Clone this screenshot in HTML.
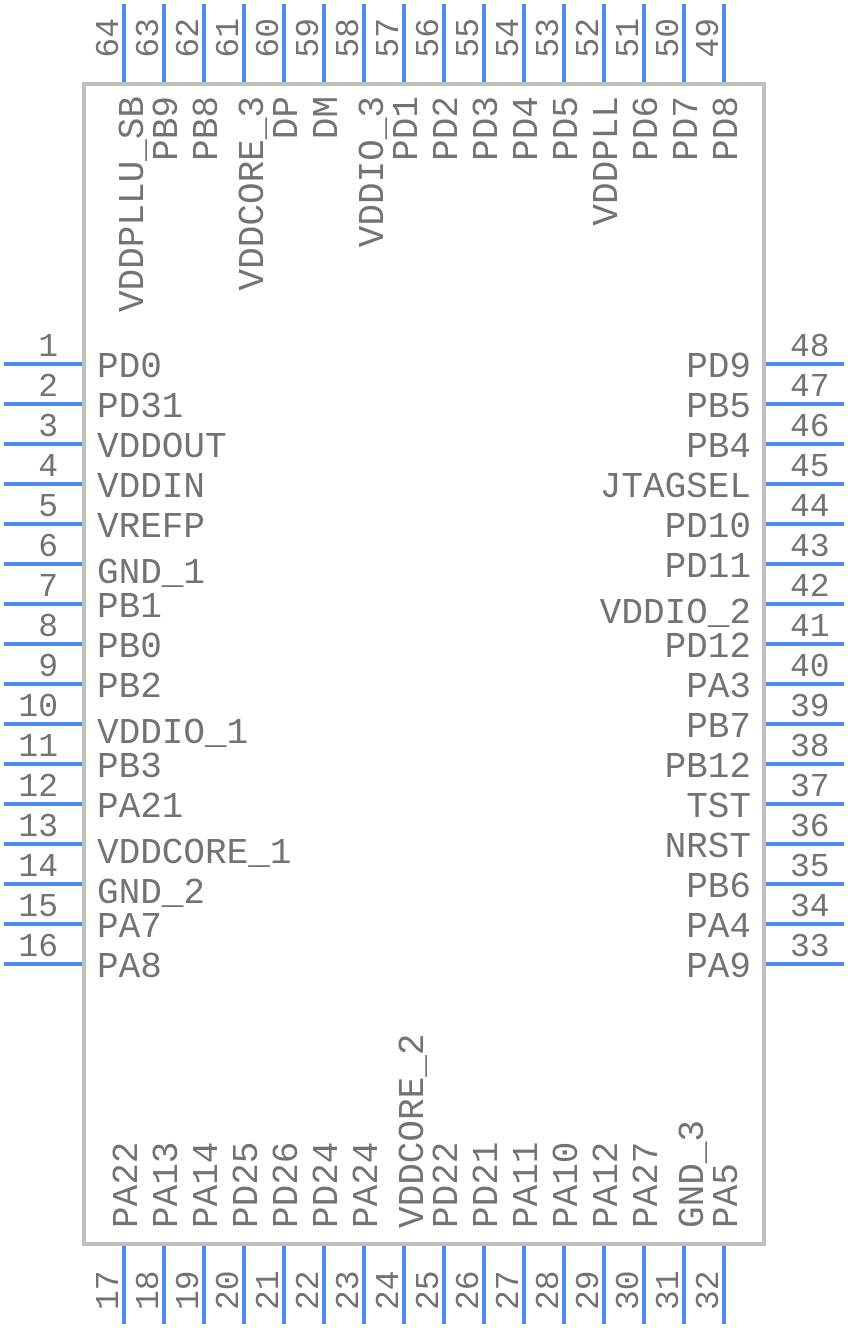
<!DOCTYPE html>
<html><head><meta charset="utf-8"><style>
html,body{margin:0;padding:0;background:#fff;}
svg{display:block;}
text{font-family:"Liberation Mono","DejaVu Sans Mono",monospace;font-size:33px;fill:#737373;}
text.lb{font-size:36px;}
</style></head><body>
<svg width="848" height="1328" viewBox="0 0 848 1328" xmlns="http://www.w3.org/2000/svg">
<g stroke="#4a8cf0" stroke-width="4" id="pins"></g>
<rect x="84" y="84" width="680" height="1160" fill="none" stroke="#c0c0c0" stroke-width="4"/>
<g id="txt"></g>
<script>
(function(){
var P=document.getElementById('pins'),T=document.getElementById('txt'),ns='http://www.w3.org/2000/svg';
function L(x1,y1,x2,y2){var l=document.createElementNS(ns,'line');l.setAttribute('x1',x1);l.setAttribute('y1',y1);l.setAttribute('x2',x2);l.setAttribute('y2',y2);P.appendChild(l);}
function X(s,x,y,anchor,rot,cls){var t=document.createElementNS(ns,'text');t.textContent=s;t.setAttribute('x',x);t.setAttribute('y',y);t.setAttribute('text-anchor',anchor);if(cls)t.setAttribute('class',cls);if(rot)t.setAttribute('transform','rotate(-90 '+x+' '+y+')');T.appendChild(t);}
var leftL=['PD0','PD31','VDDOUT','VDDIN','VREFP','GND_1','PB1','PB0','PB2','VDDIO_1','PB3','PA21','VDDCORE_1','GND_2','PA7','PA8'];
var rightL=['PD9','PB5','PB4','JTAGSEL','PD10','PD11','VDDIO_2','PD12','PA3','PB7','PB12','TST','NRST','PB6','PA4','PA9'];
var topL=['VDDPLLU_SB','PB9','PB8','VDDCORE_3','DP','DM','VDDIO_3','PD1','PD2','PD3','PD4','PD5','VDDPLL','PD6','PD7','PD8'];
var botL=['PA22','PA13','PA14','PD25','PD26','PD24','PA24','VDDCORE_2','PD22','PD21','PA11','PA10','PA12','PA27','GND_3','PA5'];
function sh(n){return n.indexOf('_')>=0?6:0;}
for(var i=0;i<16;i++){
 var y=364+40*i,x=124+40*i;
 L(4,y,84,y);X(String(i+1),58,y-8,'end');X(leftL[i],97,y+13+sh(leftL[i]),'start',0,'lb');
 L(764,y,844,y);X(String(48-i),790,y-8,'start');X(rightL[i],751,y+13+sh(rightL[i]),'end',0,'lb');
 L(x,4,x,84);X(String(64-i),x-6,18,'end',1);X(topL[i],x+13+sh(topL[i]),96,'end',1,'lb');
 L(x,1244,x,1324);X(String(17+i),x-6,1310,'start',1);X(botL[i],x+13+sh(botL[i]),1228,'start',1,'lb');
}
})();
</script>
</svg>
</body></html>
